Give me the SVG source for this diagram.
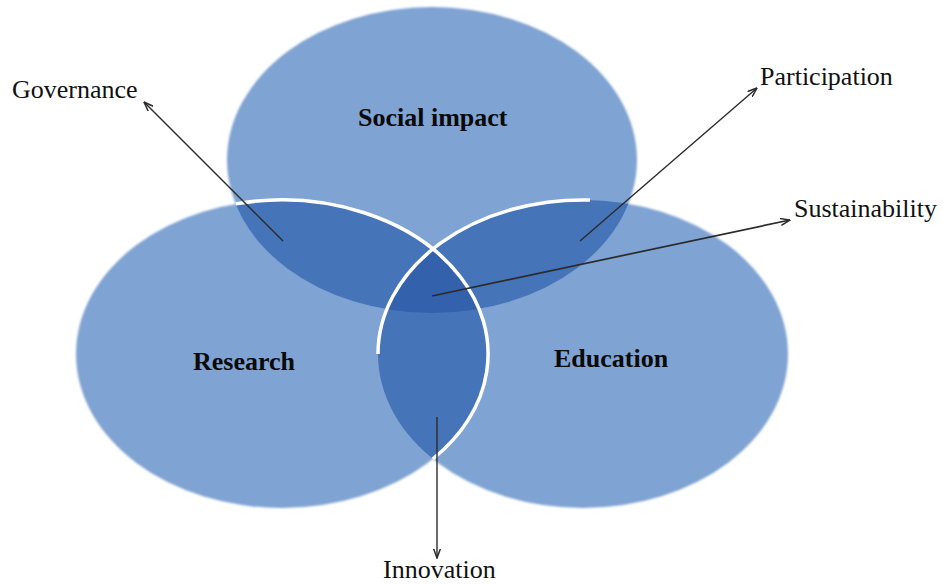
<svg xmlns="http://www.w3.org/2000/svg" width="943" height="585" viewBox="0 0 943 585">
<defs>
<style>
.base{fill:#7FA3D2}
.dbl{fill:#4574B8}
.tri{fill:#3361AC}
.lbl{font-family:"Liberation Serif","Times New Roman",serif;font-size:26px;fill:#111}
.ttl{font-family:"Liberation Serif","Times New Roman",serif;font-size:26px;font-weight:bold;fill:#0a0a0a}
.con{stroke:#2b2b2b;stroke-width:1.4;fill:none;marker-end:url(#ah)}
.wht{fill:none;stroke:#fff;stroke-width:3.5;stroke-linecap:butt}
</style>
<filter id="soft" x="-5%" y="-5%" width="110%" height="110%"><feGaussianBlur stdDeviation="0.9"/></filter>
<clipPath id="cT"><ellipse cx="432" cy="160" rx="205" ry="153"/></clipPath>
<clipPath id="cL"><ellipse cx="282" cy="354" rx="206" ry="154"/></clipPath>
<linearGradient id="gR" gradientUnits="userSpaceOnUse" x1="378" y1="0" x2="620" y2="0">
<stop offset="0" stop-color="#fff" stop-opacity="0.1"/>
<stop offset="0.23" stop-color="#fff" stop-opacity="1"/>
<stop offset="0.85" stop-color="#fff" stop-opacity="1"/>
<stop offset="1" stop-color="#fff" stop-opacity="0.2"/>
</linearGradient>
<linearGradient id="gL" gradientUnits="userSpaceOnUse" x1="234" y1="0" x2="260" y2="0">
<stop offset="0" stop-color="#fff" stop-opacity="0.3"/>
<stop offset="1" stop-color="#fff" stop-opacity="1"/>
</linearGradient>
<marker id="ah" viewBox="0 0 10 8" refX="9.5" refY="4" markerWidth="10" markerHeight="8" markerUnits="userSpaceOnUse" orient="auto">
<path d="M0,0.5 L9.5,4 L0,7.5" fill="none" stroke="#2b2b2b" stroke-width="1.5"/>
</marker>
</defs>
<rect width="943" height="585" fill="#fff"/>
<g filter="url(#soft)">
<g id="node-social"><ellipse class="base" cx="432" cy="160" rx="205" ry="153"/></g>
<g id="node-research"><ellipse class="base" cx="282" cy="354" rx="206" ry="154"/></g>
<g id="node-education"><ellipse class="base" cx="583" cy="354" rx="205" ry="154"/></g>
</g>
<g id="overlaps">
<ellipse class="dbl" cx="282" cy="354" rx="206" ry="154" clip-path="url(#cT)"/>
<ellipse class="dbl" cx="583" cy="354" rx="205" ry="154" clip-path="url(#cT)"/>
<ellipse class="dbl" cx="583" cy="354" rx="205" ry="154" clip-path="url(#cL)"/>
<g clip-path="url(#cL)"><ellipse class="tri" cx="583" cy="354" rx="205" ry="154" clip-path="url(#cT)"/></g>
</g>
<g id="rims">
<path class="wht" d="M378,354 A205,154 0 0 1 590,200" stroke="url(#gR)"/>
<path class="wht" d="M235.7,203.9 A206,154 0 0 1 432.7,459" stroke="url(#gL)"/>
</g>
<g id="titles">
<text class="ttl" x="358" y="126">Social impact</text>
<text class="ttl" x="193" y="370">Research</text>
<text class="ttl" x="554" y="367">Education</text>
</g>
<g id="connectors">
<line class="con" x1="283" y1="241" x2="144" y2="102"/>
<line class="con" x1="580" y1="241" x2="757" y2="88"/>
<line class="con" x1="432" y1="296" x2="790" y2="220" style="stroke-width:1.7"/>
<line class="con" x1="437" y1="417" x2="437" y2="558"/>
</g>
<g id="labels">
<text class="lbl" x="12" y="98">Governance</text>
<text class="lbl" x="760" y="85">Participation</text>
<text class="lbl" x="794" y="217">Sustainability</text>
<text class="lbl" x="383" y="578">Innovation</text>
</g>
</svg>
